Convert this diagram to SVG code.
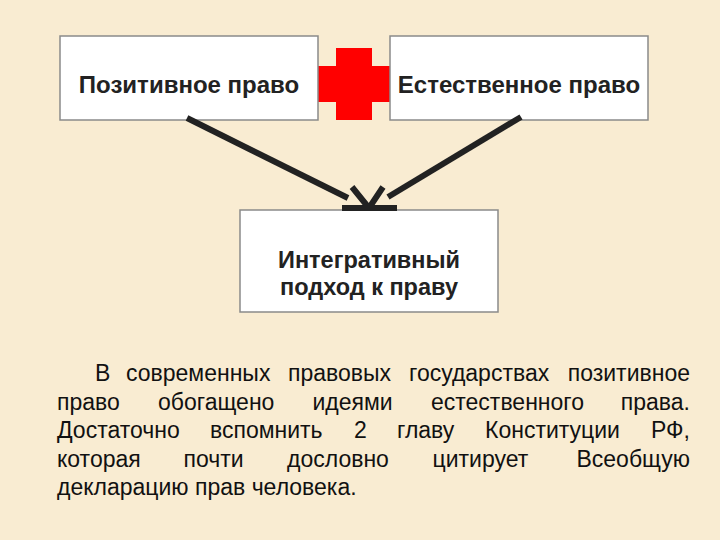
<svg xmlns="http://www.w3.org/2000/svg" width="720" height="540" viewBox="0 0 720 540">
<style>
.box{fill:#ffffff;stroke:#8a8a8a;stroke-width:1.5}
.lbl{font-family:"Liberation Sans",Arial,sans-serif;font-weight:bold;font-size:24px;fill:#222222;text-anchor:middle}
.lbl2{font-family:"Liberation Sans",Arial,sans-serif;font-weight:bold;font-size:23.5px;fill:#222222;text-anchor:middle}
.par{font-family:"Liberation Sans",Arial,sans-serif;font-size:23px;fill:#111111}
.conn{fill:none;stroke:#222222;stroke-width:6;stroke-linecap:butt;stroke-linejoin:miter}
</style>
<rect x="0" y="0" width="720" height="540" fill="#f9ecd2"/>
<g id="plus">
<path d="M336,48 H372 V66 H390 V102 H372 V120 H336 V102 H318 V66 H336 Z" fill="#ff0000"/>
</g>
<g id="positive">
<rect class="box" x="60" y="36" width="258" height="84"/>
<text class="lbl" x="189" y="93">Позитивное право</text>
</g>
<g id="natural">
<rect class="box" x="390" y="36" width="258" height="84"/>
<text class="lbl" x="519" y="93">Естественное право</text>
</g>
<g id="integrative">
<rect class="box" x="240" y="210" width="258" height="102"/>
<text class="lbl2" x="369" y="268">Интегративный</text>
<text class="lbl2" x="369" y="295">подход к праву</text>
</g>
<g id="connectors">
<path class="conn" d="M187,118 L348,198"/>
<path class="conn" d="M352,187 L369,208 L342,208"/>
<path class="conn" d="M521,117 L388,197"/>
<path class="conn" d="M383,187 L369,208 L397,208"/>
</g>
<g id="paragraph">
<text class="par" y="381"><tspan x="95">В</tspan><tspan x="126">современных</tspan><tspan x="288">правовых</tspan><tspan x="409">государствах</tspan><tspan x="690" text-anchor="end">позитивное</tspan></text>
<text class="par" y="410"><tspan x="57">право</tspan><tspan x="158">обогащено</tspan><tspan x="312.5">идеями</tspan><tspan x="431">естественного</tspan><tspan x="690" text-anchor="end">права.</tspan></text>
<text class="par" y="438"><tspan x="57">Достаточно</tspan><tspan x="210">вспомнить</tspan><tspan x="354">2</tspan><tspan x="397">главу</tspan><tspan x="485">Конституции</tspan><tspan x="690" text-anchor="end">РФ,</tspan></text>
<text class="par" y="467"><tspan x="57">которая</tspan><tspan x="183.5">почти</tspan><tspan x="287">дословно</tspan><tspan x="432.5">цитирует</tspan><tspan x="690" text-anchor="end">Всеобщую</tspan></text>
<text class="par" y="495"><tspan x="57">декларацию прав человека.</tspan></text>
</g>
</svg>
